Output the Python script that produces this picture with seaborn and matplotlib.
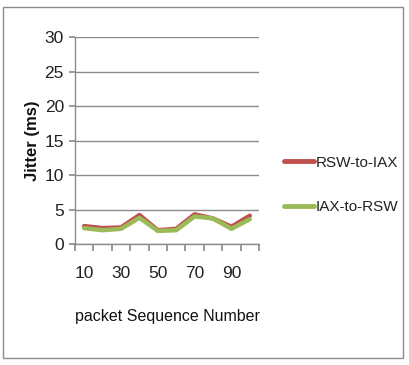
import matplotlib
matplotlib.use("Agg")
import matplotlib.pyplot as plt
import seaborn as sns
import pandas as pd
from matplotlib.patches import Rectangle

packets = [10, 20, 30, 40, 50, 60, 70, 80, 90, 100]
rsw_to_iax = [2.6, 2.3, 2.4, 4.2, 2.0, 2.2, 4.3, 3.7, 2.5, 4.1]
iax_to_rsw = [2.3, 2.0, 2.2, 3.8, 1.9, 2.0, 4.0, 3.7, 2.2, 3.6]
series_names = ["RSW-to-IAX", "IAX-to-RSW"]
tick_labels = ["10", "30", "50", "70", "90"]

sns.set_theme(style="white")
plt.rcParams['font.family'] = ['Liberation Sans', 'DejaVu Sans']

n = len(packets)
df = pd.DataFrame({
    "pos": list(range(n)) * 2,
    "value": rsw_to_iax + iax_to_rsw,
    "series": [series_names[0]] * n + [series_names[1]] * n,
})

fig = plt.figure(figsize=(4.09, 3.65), dpi=100)
ax = fig.add_axes([75/409, 1 - 244/365, (259-75)/409, (244-37)/365])

palette = {series_names[0]: "#C0504D", series_names[1]: "#9BBB59"}
sns.lineplot(data=df, x="pos", y="value", hue="series", palette=palette,
             linewidth=3.2, ax=ax, legend=True)

ax.set_xlim(-0.5, n - 0.5)
ax.set_ylim(0, 30)
ax.set_yticks([0, 5, 10, 15, 20, 25, 30])
ax.yaxis.grid(True, color="#8c8c8c", linewidth=1.0)
ax.set_axisbelow(True)
for s in ["top", "right"]:
    ax.spines[s].set_visible(False)
for s in ["left", "bottom"]:
    ax.spines[s].set_color("#8c8c8c")
    ax.spines[s].set_linewidth(1.0)

ax.set_xticks([i - 0.5 for i in range(n + 1)], minor=False)
ax.set_xticklabels([""] * (n + 1))
ax.set_xticks([0, 2, 4, 6, 8], minor=True)
ax.set_xticklabels(tick_labels, minor=True)
ax.tick_params(axis="x", which="major", direction="out", length=5, color="#8c8c8c", bottom=True)
ax.tick_params(axis="x", which="minor", length=0, labelsize=12.5, pad=16, labelcolor="#222222")
ax.tick_params(axis="y", direction="out", length=4, color="#8c8c8c", left=True, labelsize=12.5, pad=4, labelcolor="#222222")

ax.set_xlabel("packet Sequence Number", fontsize=11.5, labelpad=20, color="#111111")
ax.set_ylabel("Jitter (ms)", fontsize=12, fontweight="bold", labelpad=3, color="#111111")

handles, labels = ax.get_legend_handles_labels()
for h in handles:
    h.set_linewidth(3.5)
ax.legend(handles, labels, loc="center left", bbox_to_anchor=(1.06, 0.285),
          frameon=False, fontsize=11, handlelength=2.0, handletextpad=0.1,
          labelspacing=2.0, labelcolor="#222222")

fig.patches.append(Rectangle((3/409, 7/365), 400/409, 351/365, transform=fig.transFigure,
                             fill=False, edgecolor="#8c8c8c", linewidth=1.0))

fig.savefig("out.png", dpi=100)
